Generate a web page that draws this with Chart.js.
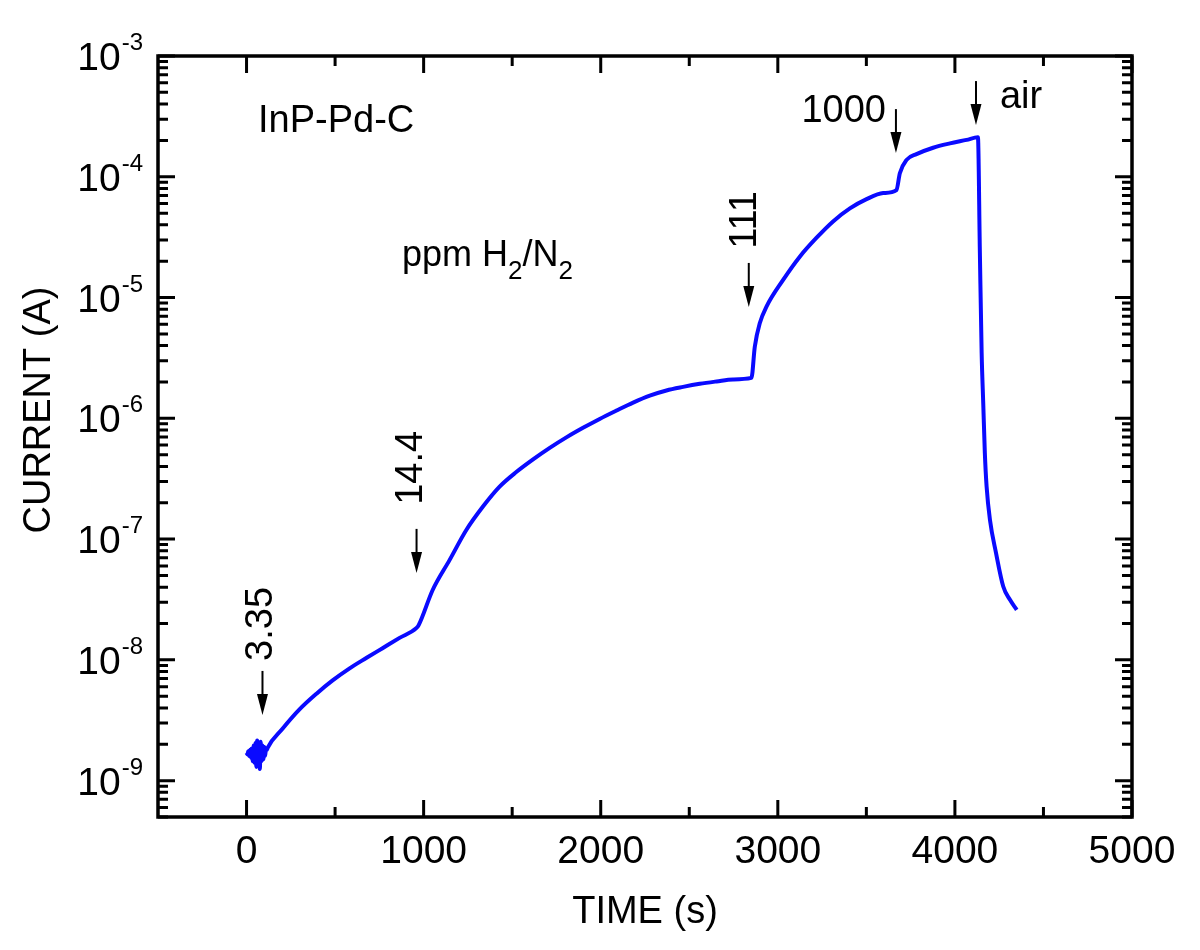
<!DOCTYPE html>
<html>
<head>
<meta charset="utf-8">
<script src="https://cdn.jsdelivr.net/npm/chart.js@4.4.0/dist/chart.umd.min.js"></script>
<style>
  body { margin: 0; background: #fff; }
  #wrap { width: 1200px; height: 950px; }
</style>
</head>
<body>
<div id="wrap"><canvas id="mycanvas"></canvas></div>
<script>
// time (s) and current (A)
var timeS = [
  0, 5, 10, 15, 20, 25, 30, 35, 40, 45, 50, 55, 60, 65, 70, 75, 80, 85, 90, 95, 100, 105, 110, 115,
  119, 203, 299, 395, 486, 582, 678, 768, 864, 960, 972,
  1051, 1147, 1241, 1335, 1429, 1523, 1618, 1712, 1806, 1900, 1994, 2089, 2183, 2277, 2371, 2465, 2559, 2654, 2747, 2851,
  2870, 2898, 2936, 3030, 3124, 3219, 3312, 3407, 3501, 3595, 3670,
  3689, 3727, 3783, 3877, 3972, 4066, 4130,
  4141, 4151, 4160, 4169, 4179, 4198, 4232, 4273, 4311, 4349
];
var currentA = [
  1.70e-9, 1.65e-9, 1.75e-9, 1.60e-9, 1.80e-9, 1.55e-9, 1.85e-9, 1.45e-9, 1.95e-9, 1.40e-9, 2.05e-9, 1.30e-9,
  2.15e-9, 1.35e-9, 2.00e-9, 1.25e-9, 2.10e-9, 1.45e-9, 1.95e-9, 1.50e-9, 1.90e-9, 1.60e-9, 1.85e-9, 1.80e-9,
  1.87e-9, 2.69e-9, 3.89e-9, 5.25e-9, 6.76e-9, 8.51e-9, 1.04e-8, 1.25e-8, 1.52e-8, 1.84e-8, 1.94e-8,
  3.79e-8, 6.73e-8, 1.19e-7, 1.86e-7, 2.72e-7, 3.59e-7, 4.57e-7, 5.69e-7, 6.95e-7, 8.34e-7, 9.89e-7, 1.16e-6,
  1.35e-6, 1.54e-6, 1.70e-6, 1.82e-6, 1.93e-6, 2.02e-6, 2.10e-6, 2.16e-6,
  3.92e-6, 6.12e-6, 8.41e-6, 1.40e-5, 2.18e-5, 3.13e-5, 4.27e-5, 5.47e-5, 6.53e-5, 7.33e-5, 7.76e-5,
  1.07e-4, 1.38e-4, 1.54e-4, 1.74e-4, 1.89e-4, 2.02e-4, 2.12e-4,
  2.34e-5, 3.48e-6, 1.33e-6, 5.18e-7, 2.72e-7, 1.44e-7, 7.69e-8, 4.05e-8, 3.14e-8, 2.60e-8
];

var xMajor = [0, 1000, 2000, 3000, 4000, 5000];
var xMinor = [500, 1500, 2500, 3500, 4500];
var yDecades = [-9, -8, -7, -6, -5, -4, -3];

// gas step labels: text, arrow tip (time, current)
var stepLabels = ['3.35', '14.4', '111', '1000', 'air'];
var stepTime = [90, 960, 2836, 3667, 4119];
var stepCurrent = [3.5e-9, 5.25e-8, 8.36e-6, 1.57e-4, 2.68e-4];
// label placement relative to the arrow tip, px
var stepDx = [-1, -5, -3, -10, 24];
var stepDy = [-91, -105, -87, -31, -17];

var FONT = '"Liberation Sans", Arial, Helvetica, sans-serif';

var points = [];
for (var i = 0; i < timeS.length; i++) {
  points.push({ x: timeS[i], y: currentA[i] });
}

function arrowDown(ctx, x, tipY) {
  ctx.lineWidth = 2;
  ctx.beginPath();
  ctx.moveTo(x, tipY - 44);
  ctx.lineTo(x, tipY - 18);
  ctx.stroke();
  ctx.beginPath();
  ctx.moveTo(x - 5.5, tipY - 21);
  ctx.lineTo(x + 5.5, tipY - 21);
  ctx.lineTo(x, tipY);
  ctx.closePath();
  ctx.fill();
}

var figPlugin = {
  id: 'fig',
  afterDraw: function(chart) {
    var ctx = chart.ctx;
    var a = chart.chartArea;
    var xs = chart.scales.x, ys = chart.scales.y;
    ctx.save();
    ctx.strokeStyle = '#000';
    ctx.fillStyle = '#000';

    // frame
    ctx.lineWidth = 3.5;
    ctx.strokeRect(a.left, a.top, a.right - a.left, a.bottom - a.top);

    // x ticks (inward, top and bottom)
    ctx.lineWidth = 3;
    xMajor.concat(xMinor).forEach(function(v) {
      var px = xs.getPixelForValue(v);
      var len = xMajor.indexOf(v) >= 0 ? 17 : 10;
      ctx.beginPath();
      ctx.moveTo(px, a.bottom); ctx.lineTo(px, a.bottom - len);
      ctx.moveTo(px, a.top); ctx.lineTo(px, a.top + len);
      ctx.stroke();
    });

    // y ticks (log, inward, left and right)
    for (var e = -10; e <= -3; e++) {
      for (var k = 1; k <= 9; k++) {
        var v = k * Math.pow(10, e);
        if (v < ys.min * 0.999 || v > ys.max * 1.001) continue;
        var py = ys.getPixelForValue(v);
        var len = k === 1 ? 17 : 10;
        ctx.beginPath();
        ctx.moveTo(a.left, py); ctx.lineTo(a.left + len, py);
        ctx.moveTo(a.right, py); ctx.lineTo(a.right - len, py);
        ctx.stroke();
      }
    }

    // x tick labels
    ctx.font = '39px ' + FONT;
    ctx.textAlign = 'center';
    ctx.textBaseline = 'alphabetic';
    xMajor.forEach(function(v) {
      ctx.fillText(String(v), xs.getPixelForValue(v), 863);
    });

    // y tick labels 10^n
    yDecades.forEach(function(d) {
      var py = ys.getPixelForValue(Math.pow(10, d));
      var exp = String(d);
      ctx.font = '24px ' + FONT;
      var we = ctx.measureText(exp).width;
      var right = a.left - 15;
      ctx.textAlign = 'left';
      ctx.fillText(exp, right - we, py - 6);
      ctx.font = '39px ' + FONT;
      ctx.textAlign = 'right';
      ctx.fillText('10', right - we - 1, py + 14);
    });

    // axis titles
    ctx.font = '38px ' + FONT;
    ctx.textAlign = 'center';
    ctx.fillText('TIME (s)', (a.left + a.right) / 2, 923);
    ctx.save();
    ctx.translate(50, 410);
    ctx.rotate(-Math.PI / 2);
    ctx.fillText('CURRENT (A)', 0, 0);
    ctx.restore();

    // sample name
    ctx.font = '38px ' + FONT;
    ctx.textAlign = 'left';
    ctx.fillText('InP-Pd-C', 258, 132);

    // ppm H2/N2
    var x0 = 402, base = 266;
    var parts = [['ppm H', 0], ['2', 1], ['/N', 0], ['2', 1]];
    parts.forEach(function(p) {
      ctx.font = (p[1] ? '26px ' : '36px ') + FONT;
      ctx.fillText(p[0], x0, base + (p[1] ? 13 : 0));
      x0 += ctx.measureText(p[0]).width;
    });

    // arrows and step labels
    for (var j = 0; j < stepLabels.length; j++) {
      var ax = xs.getPixelForValue(stepTime[j]);
      var ay = ys.getPixelForValue(stepCurrent[j]);
      arrowDown(ctx, ax, ay);
      ctx.font = '38px ' + FONT;
      if (j < 3) {
        ctx.save();
        ctx.translate(ax + stepDx[j], ay + stepDy[j]);
        ctx.rotate(-Math.PI / 2);
        ctx.textAlign = 'center';
        ctx.textBaseline = 'middle';
        ctx.fillText(stepLabels[j], 0, 0);
        ctx.restore();
      } else {
        ctx.textAlign = j === 3 ? 'right' : 'left';
        ctx.textBaseline = 'alphabetic';
        ctx.fillText(stepLabels[j], ax + stepDx[j], ay + stepDy[j]);
      }
    }
    ctx.restore();
  }
};

var ctx = document.getElementById('mycanvas');
var chart = new Chart(ctx, {
  type: 'line',
  data: {
    datasets: [{
      data: points,
      borderColor: '#0a0aff',
      borderWidth: 4,
      pointRadius: 0,
      fill: false,
      cubicInterpolationMode: 'monotone'
    }]
  },
  options: {
    responsive: true,
    maintainAspectRatio: false,
    animation: false,
    events: [],
    layout: { padding: { left: 158, right: 68, top: 56, bottom: 133 } },
    plugins: { legend: { display: false }, tooltip: { enabled: false } },
    scales: {
      x: { type: 'linear', min: -500, max: 5000, display: false },
      y: { type: 'logarithmic', min: 5e-10, max: 1e-3, display: false }
    }
  },
  plugins: [figPlugin]
});
</script>
</body>
</html>
